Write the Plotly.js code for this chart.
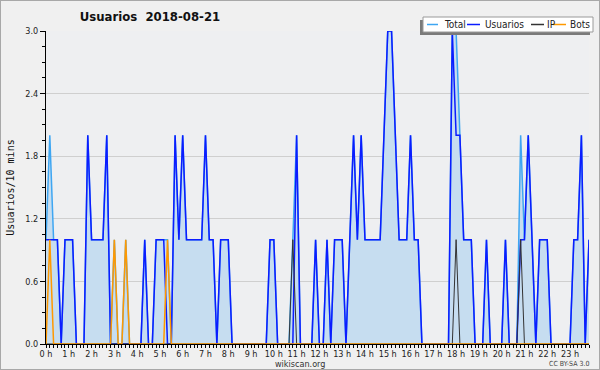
<!DOCTYPE html>
<html>
<head>
<meta charset="utf-8">
<script src="https://cdn.plot.ly/plotly-3.0.1.min.js"></script>
<style>
html,body{margin:0;padding:0;background:#f0f0f0;}
#wrap{position:relative;width:600px;height:370px;}
#chart{width:600px;height:370px;}
#frame{position:absolute;left:0;top:0;width:598px;height:368px;border:1px solid #a8a8a8;pointer-events:none;}
</style>
</head>
<body>
<div id="wrap"><div id="chart"></div><div id="frame"></div></div>
<script>
// minutes from 00:00, one point per 10 minutes
var minutes = [];
for (var i = 0; i < 144; i++) minutes.push(i * 10);

var hourTicks = [0,60,120,180,240,300,360,420,480,540,600,660,720,780,840,900,960,1020,1080,1140,1200,1260,1320,1380];
var hourLabels = ["0 h","1 h","2 h","3 h","4 h","5 h","6 h","7 h","8 h","9 h","10 h","11 h","12 h","13 h","14 h","15 h","16 h","17 h","18 h","19 h","20 h","21 h","22 h","23 h"];

var seriesNames = ["Total","Usuarios","IP","Bots"];
var seriesColors = ["#3ea6f2","#0b1cff","#333333","#ff9900"];

var total = [
 1,2,1,1,0,1,1,1,0,0,
 0,2,1,1,1,1,2,0,1,0,
 0,1,0,0,0,0,1,0,0,1,
 1,1,1,0,2,1,2,1,1,1,
 1,1,2,1,1,0,1,1,1,0,
 0,0,0,0,0,0,0,0,0,1,
 1,0,0,0,0,1,2,0,0,0,
 0,1,0,0,1,0,1,1,1,0,
 1,2,1,2,1,1,1,1,1,2,
 3,3,2,1,1,1,2,1,1,0,
 0,0,0,0,0,0,0,3,3,2,
 1,1,1,0,0,0,1,0,0,0,
 0,1,0,0,0,2,1,2,1,0,
 1,1,1,0,0,0,0,0,0,1,
 1,2,0,1];

var usuarios = [
 1,1,1,1,0,1,1,1,0,0,
 0,2,1,1,1,1,2,0,0,0,
 0,0,0,0,0,0,1,0,0,1,
 1,1,0,0,2,1,2,1,1,1,
 1,1,2,1,1,0,1,1,1,0,
 0,0,0,0,0,0,0,0,0,1,
 1,0,0,0,0,0,2,0,0,0,
 0,1,0,0,1,0,1,1,1,0,
 1,2,1,2,1,1,1,1,1,2,
 3,3,2,1,1,1,2,1,1,0,
 0,0,0,0,0,0,0,3,2,2,
 1,1,1,0,0,0,1,0,0,0,
 0,1,0,0,0,1,1,2,1,0,
 1,1,1,0,0,0,0,0,0,1,
 1,2,0,1];

var ip = [
 0,0,0,0,0,0,0,0,0,0,
 0,0,0,0,0,0,0,0,0,0,
 0,0,0,0,0,0,0,0,0,0,
 0,0,0,0,0,0,0,0,0,0,
 0,0,0,0,0,0,0,0,0,0,
 0,0,0,0,0,0,0,0,0,0,
 0,0,0,0,0,1,0,0,0,0,
 0,0,0,0,0,0,0,0,0,0,
 0,0,0,0,0,0,0,0,0,0,
 0,0,0,0,0,0,0,0,0,0,
 0,0,0,0,0,0,0,0,1,0,
 0,0,0,0,0,0,0,0,0,0,
 0,0,0,0,0,1,0,0,0,0,
 0,0,0,0,0,0,0,0,0,0,
 0,0,0,0];

var bots = [
 0,1,0,0,0,0,0,0,0,0,
 0,0,0,0,0,0,0,0,1,0,
 0,1,0,0,0,0,0,0,0,0,
 0,0,1,0,0,0,0,0,0,0,
 0,0,0,0,0,0,0,0,0,0,
 0,0,0,0,0,0,0,0,0,0,
 0,0,0,0,0,0,0,0,0,0,
 0,0,0,0,0,0,0,0,0,0,
 0,0,0,0,0,0,0,0,0,0,
 0,0,0,0,0,0,0,0,0,0,
 0,0,0,0,0,0,0,0,0,0,
 0,0,0,0,0,0,0,0,0,0,
 0,0,0,0,0,0,0,0,0,0,
 0,0,0,0,0,0,0,0,0,0,
 0,0,0,0];

var yTicks = [0,0.6,1.2,1.8,2.4,3.0];
var yLabels = ["0.0","0.6","1.2","1.8","2.4","3.0"];

var fontC = "DejaVu Sans Condensed, DejaVu Sans, sans-serif";

var traces = [
 {name:seriesNames[0], x:minutes, y:total, type:"scatter", mode:"lines",
  line:{color:seriesColors[0], width:1.5}, fill:"tozeroy", fillcolor:"#c6ddf0"},
 {name:seriesNames[1], x:minutes, y:usuarios, type:"scatter", mode:"lines",
  line:{color:seriesColors[1], width:1.5}},
 {name:seriesNames[2], x:minutes, y:ip, type:"scatter", mode:"lines",
  line:{color:seriesColors[2], width:1}},
 {name:seriesNames[3], x:minutes, y:bots, type:"scatter", mode:"lines",
  line:{color:seriesColors[3], width:1.5}}
];

// ---- compact legend drawn at fixed pixel positions (converted to paper coords) ----
var L = 46, T = 31, W = 543, H = 313;
function px(x){ return (x - L) / W; }
function py(y){ return (T + H - y) / H; }

var shapes = [
 {type:"rect", xref:"paper", yref:"paper", x0:px(420), x1:px(590), y0:py(35), y1:py(20),
  fillcolor:"#7a7a7a", line:{width:0}, layer:"above"},
 {type:"rect", xref:"paper", yref:"paper", x0:px(423), x1:px(593), y0:py(32), y1:py(17),
  fillcolor:"#ffffff", line:{color:"#9a9a9a", width:1}, layer:"above"}
];
var sampleX = [[427,438],[467,480],[531,544],[553,566]];
var textX = [443, 484, 546, 569];
var annotations = [];
for (var k = 0; k < 4; k++) {
  shapes.push({type:"line", xref:"paper", yref:"paper", x0:px(sampleX[k][0]), x1:px(sampleX[k][1]),
    y0:py(24.5), y1:py(24.5), line:{color:seriesColors[k], width:1.5}, layer:"above"});
  annotations.push({text:seriesNames[k], xref:"paper", yref:"paper", x:px(textX[k]), y:py(24.5),
    xanchor:"left", yanchor:"middle", showarrow:false, xshift:-1,
    font:{family:fontC, size:10, color:"#222"}});
}
annotations.push({text:"wikiscan.org", xref:"paper", yref:"paper", x:px(300), y:py(364.5),
  xanchor:"center", yanchor:"middle", showarrow:false, font:{family:fontC, size:9, color:"#333"}});
annotations.push({text:"CC BY-SA 3.0", xref:"paper", yref:"paper", x:px(591), y:py(364),
  xanchor:"right", yanchor:"middle", showarrow:false, font:{family:fontC, size:7, color:"#444"}});

var layout = {
 width:600, height:370,
 paper_bgcolor:"#f0f0f0", plot_bgcolor:"#eeeff1",
 margin:{l:L, r:600-L-W, t:T, b:370-T-H, autoexpand:false},
 font:{family:fontC, size:9, color:"#222"},
 showlegend:false,
 title:{text:"Usuarios\u00a0\u00a02018-08-21", font:{family:fontC, size:13, weight:"bold", color:"#111"},
        xref:"container", yref:"container", x:0.25, xanchor:"center", y:0.955, yanchor:"middle"},
 xaxis:{range:[0,1430], tickmode:"array", tickvals:hourTicks, ticktext:hourLabels,
        showgrid:false, zeroline:false, showline:true, linecolor:"#000", linewidth:1,
        ticks:"outside", ticklen:3, tickcolor:"#000", tickfont:{family:fontC, size:9, color:"#222"},
        ticklabelstandoff:-2,
        minor:{tickmode:"linear", tick0:0, dtick:10, ticks:"outside", ticklen:3, tickcolor:"#000", showgrid:false},
        fixedrange:true},
 yaxis:{range:[0,3], tickmode:"array", tickvals:yTicks, ticktext:yLabels,
        showgrid:true, gridcolor:"#cfcfcf", gridwidth:1, zeroline:false,
        showline:true, linecolor:"#000", linewidth:1,
        ticks:"outside", ticklen:5, tickcolor:"#000", tickfont:{family:fontC, size:9, color:"#222"},
        minor:{tickmode:"linear", tick0:0, dtick:0.15, ticks:"outside", ticklen:3, tickcolor:"#000", showgrid:false},
        title:{text:"Usuarios/10 mins", font:{family:"DejaVu Sans Mono, monospace", size:10, color:"#111"}, standoff:8},
        fixedrange:true},
 shapes:shapes,
 annotations:annotations
};

Plotly.newPlot("chart", traces, layout, {displayModeBar:false, staticPlot:true});
</script>
</body>
</html>
